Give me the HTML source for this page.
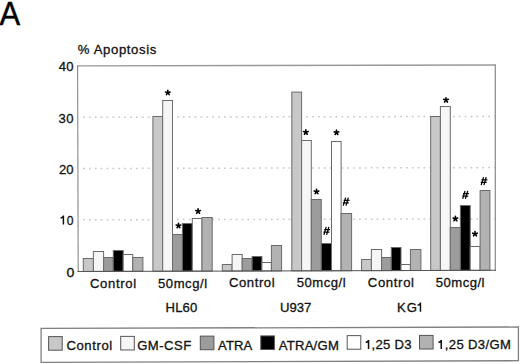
<!DOCTYPE html><html><head><meta charset="utf-8"><style>
html,body{margin:0;padding:0;background:#fff;width:520px;height:364px;overflow:hidden}
svg{display:block}
text{font-family:"Liberation Sans",sans-serif;fill:#111;stroke:#111;stroke-width:0.30px}
</style></head><body>
<svg width="520" height="364" viewBox="0 0 520 364">
<line x1="83.1" y1="219.8" x2="495" y2="218.90" stroke="#cacaca" stroke-width="1.5" stroke-dasharray="1.8 4.07"/>
<line x1="83.1" y1="168.5" x2="495" y2="167.60" stroke="#cacaca" stroke-width="1.5" stroke-dasharray="1.8 4.07"/>
<line x1="83.1" y1="117.3" x2="495" y2="116.40" stroke="#cacaca" stroke-width="1.5" stroke-dasharray="1.8 4.07"/>
<line x1="77.4" y1="65.9" x2="495.6" y2="65.0" stroke="#999" stroke-width="1.4"/>
<line x1="77.6" y1="65.3" x2="78.2" y2="272" stroke="#888" stroke-width="1.1"/>
<line x1="495.3" y1="64.4" x2="495.3" y2="270.8" stroke="#888" stroke-width="1.2"/>
<rect x="83.30" y="258.5" width="10.10" height="12.92" fill="#c8c8c8" stroke="#6a6a6a" stroke-width="1"/>
<rect x="93.40" y="251.5" width="10.20" height="19.89" fill="#f6f6f6" stroke="#6a6a6a" stroke-width="1"/>
<rect x="103.60" y="257.5" width="9.70" height="13.86" fill="#9c9c9c" stroke="#6a6a6a" stroke-width="1"/>
<rect x="113.30" y="250.5" width="9.90" height="20.84" fill="#000000" stroke="#6a6a6a" stroke-width="1"/>
<rect x="123.20" y="254.5" width="9.60" height="16.81" fill="#ffffff" stroke="#6a6a6a" stroke-width="1"/>
<rect x="132.80" y="257.5" width="10.10" height="13.78" fill="#b2b2b2" stroke="#6a6a6a" stroke-width="1"/>
<rect x="152.90" y="116.5" width="9.80" height="154.73" fill="#c8c8c8" stroke="#6a6a6a" stroke-width="1"/>
<rect x="162.70" y="100.5" width="9.80" height="170.70" fill="#f6f6f6" stroke="#6a6a6a" stroke-width="1"/>
<rect x="172.50" y="234.5" width="9.90" height="36.68" fill="#9c9c9c" stroke="#6a6a6a" stroke-width="1"/>
<rect x="182.40" y="223.5" width="9.90" height="47.65" fill="#000000" stroke="#6a6a6a" stroke-width="1"/>
<rect x="192.30" y="218.5" width="9.70" height="52.62" fill="#ffffff" stroke="#6a6a6a" stroke-width="1"/>
<rect x="202.00" y="217.5" width="10.20" height="53.59" fill="#b2b2b2" stroke="#6a6a6a" stroke-width="1"/>
<rect x="222.30" y="264.5" width="9.80" height="6.54" fill="#c8c8c8" stroke="#6a6a6a" stroke-width="1"/>
<rect x="232.10" y="254.5" width="10.10" height="16.51" fill="#f6f6f6" stroke="#6a6a6a" stroke-width="1"/>
<rect x="242.20" y="258.5" width="9.90" height="12.48" fill="#9c9c9c" stroke="#6a6a6a" stroke-width="1"/>
<rect x="252.10" y="256.5" width="9.80" height="14.46" fill="#000000" stroke="#6a6a6a" stroke-width="1"/>
<rect x="261.90" y="262.5" width="9.50" height="8.43" fill="#ffffff" stroke="#6a6a6a" stroke-width="1"/>
<rect x="271.40" y="245.5" width="10.20" height="25.40" fill="#b2b2b2" stroke="#6a6a6a" stroke-width="1"/>
<rect x="291.80" y="92.1" width="9.80" height="178.75" fill="#c8c8c8" stroke="#6a6a6a" stroke-width="1"/>
<rect x="301.60" y="140.5" width="9.70" height="130.32" fill="#f6f6f6" stroke="#6a6a6a" stroke-width="1"/>
<rect x="311.30" y="199.5" width="10.00" height="71.29" fill="#9c9c9c" stroke="#6a6a6a" stroke-width="1"/>
<rect x="321.30" y="243.5" width="10.20" height="27.27" fill="#000000" stroke="#6a6a6a" stroke-width="1"/>
<rect x="331.50" y="141.5" width="9.60" height="129.24" fill="#ffffff" stroke="#6a6a6a" stroke-width="1"/>
<rect x="341.10" y="213.5" width="10.50" height="57.21" fill="#b2b2b2" stroke="#6a6a6a" stroke-width="1"/>
<rect x="361.60" y="259.5" width="9.80" height="11.16" fill="#c8c8c8" stroke="#6a6a6a" stroke-width="1"/>
<rect x="371.40" y="249.5" width="10.20" height="21.13" fill="#f6f6f6" stroke="#6a6a6a" stroke-width="1"/>
<rect x="381.60" y="257.5" width="9.70" height="13.10" fill="#9c9c9c" stroke="#6a6a6a" stroke-width="1"/>
<rect x="391.30" y="247.5" width="9.70" height="23.07" fill="#000000" stroke="#6a6a6a" stroke-width="1"/>
<rect x="401.00" y="264.5" width="9.40" height="6.05" fill="#ffffff" stroke="#6a6a6a" stroke-width="1"/>
<rect x="410.40" y="249.5" width="10.50" height="21.02" fill="#b2b2b2" stroke="#6a6a6a" stroke-width="1"/>
<rect x="430.70" y="116.5" width="9.70" height="153.97" fill="#c8c8c8" stroke="#6a6a6a" stroke-width="1"/>
<rect x="440.40" y="106.5" width="9.90" height="163.94" fill="#f6f6f6" stroke="#6a6a6a" stroke-width="1"/>
<rect x="450.30" y="227.5" width="10.10" height="42.91" fill="#9c9c9c" stroke="#6a6a6a" stroke-width="1"/>
<rect x="460.40" y="205.5" width="9.80" height="64.88" fill="#000000" stroke="#6a6a6a" stroke-width="1"/>
<rect x="470.20" y="246.5" width="9.90" height="23.86" fill="#ffffff" stroke="#6a6a6a" stroke-width="1"/>
<rect x="480.10" y="190.5" width="9.80" height="79.83" fill="#b2b2b2" stroke="#6a6a6a" stroke-width="1"/>
<line x1="77.5" y1="271.45" x2="496" y2="270.30" stroke="#555" stroke-width="1.1"/>
<path d="M167.80 92.70L167.80 90.30M167.80 92.70L170.08 91.96M167.80 92.70L169.21 94.64M167.80 92.70L166.39 94.64M167.80 92.70L165.52 91.96" stroke="#000" stroke-width="1.6" stroke-linecap="round" fill="none"/>
<path d="M178.50 225.75L178.50 223.35M178.50 225.75L180.78 225.01M178.50 225.75L179.91 227.69M178.50 225.75L177.09 227.69M178.50 225.75L176.22 225.01" stroke="#000" stroke-width="1.6" stroke-linecap="round" fill="none"/>
<path d="M198.10 211.30L198.10 208.90M198.10 211.30L200.38 210.56M198.10 211.30L199.51 213.24M198.10 211.30L196.69 213.24M198.10 211.30L195.82 210.56" stroke="#000" stroke-width="1.6" stroke-linecap="round" fill="none"/>
<path d="M305.85 132.30L305.85 129.90M305.85 132.30L308.13 131.56M305.85 132.30L307.26 134.24M305.85 132.30L304.44 134.24M305.85 132.30L303.57 131.56" stroke="#000" stroke-width="1.6" stroke-linecap="round" fill="none"/>
<path d="M316.50 191.70L316.50 189.30M316.50 191.70L318.78 190.96M316.50 191.70L317.91 193.64M316.50 191.70L315.09 193.64M316.50 191.70L314.22 190.96" stroke="#000" stroke-width="1.6" stroke-linecap="round" fill="none"/>
<path d="M323.90 234.90L326.20 226.90M326.60 234.90L328.90 226.90M324.20 229.65L330.10 229.65M323.40 232.15L329.40 232.15" stroke="#000" stroke-width="1.25" fill="none"/>
<path d="M336.50 132.50L336.50 130.10M336.50 132.50L338.78 131.76M336.50 132.50L337.91 134.44M336.50 132.50L335.09 134.44M336.50 132.50L334.22 131.76" stroke="#000" stroke-width="1.6" stroke-linecap="round" fill="none"/>
<path d="M343.30 205.60L345.60 197.60M346.00 205.60L348.30 197.60M343.60 200.35L349.50 200.35M342.80 202.85L348.80 202.85" stroke="#000" stroke-width="1.25" fill="none"/>
<path d="M446.00 100.10L446.00 97.70M446.00 100.10L448.28 99.36M446.00 100.10L447.41 102.04M446.00 100.10L444.59 102.04M446.00 100.10L443.72 99.36" stroke="#000" stroke-width="1.6" stroke-linecap="round" fill="none"/>
<path d="M455.40 218.80L455.40 216.40M455.40 218.80L457.68 218.06M455.40 218.80L456.81 220.74M455.40 218.80L453.99 220.74M455.40 218.80L453.12 218.06" stroke="#000" stroke-width="1.6" stroke-linecap="round" fill="none"/>
<path d="M462.70 198.90L465.00 190.90M465.40 198.90L467.70 190.90M463.00 193.65L468.90 193.65M462.20 196.15L468.20 196.15" stroke="#000" stroke-width="1.25" fill="none"/>
<path d="M475.00 233.90L475.00 231.50M475.00 233.90L477.28 233.16M475.00 233.90L476.41 235.84M475.00 233.90L473.59 235.84M475.00 233.90L472.72 233.16" stroke="#000" stroke-width="1.6" stroke-linecap="round" fill="none"/>
<path d="M481.20 185.10L483.50 177.10M483.90 185.10L486.20 177.10M481.50 179.85L487.40 179.85M480.70 182.35L486.70 182.35" stroke="#000" stroke-width="1.25" fill="none"/>
<text x="-0.57" y="24.80" font-size="33.2" textLength="20.66" lengthAdjust="spacingAndGlyphs" style="fill:#000;stroke:#000;stroke-width:0.4px">A</text>
<text x="77.85" y="54.15" font-size="13.1" textLength="78.46" lengthAdjust="spacing">% Apoptosis</text>
<text x="58.65" y="71.05" font-size="13.1" textLength="14.83" lengthAdjust="spacing">40</text>
<text x="58.50" y="122.80" font-size="13.1" textLength="15.08" lengthAdjust="spacing">30</text>
<text x="59.00" y="173.80" font-size="13.1" textLength="14.58" lengthAdjust="spacing">20</text>
<text x="66.84" y="224.65" font-size="13.1" textLength="6.74" lengthAdjust="spacingAndGlyphs">0</text>
<text x="66.46" y="276.75" font-size="13.1" textLength="7.86" lengthAdjust="spacingAndGlyphs">0</text>
<text x="90.00" y="287.75" font-size="13.1" textLength="46.12" lengthAdjust="spacing">Control</text>
<text x="158.00" y="287.65" font-size="13.1" textLength="49.06" lengthAdjust="spacing">50mcg/l</text>
<text x="229.00" y="287.45" font-size="13.1" textLength="45.62" lengthAdjust="spacing">Control</text>
<text x="296.70" y="287.25" font-size="13.1" textLength="48.96" lengthAdjust="spacing">50mcg/l</text>
<text x="367.75" y="287.45" font-size="13.1" textLength="46.27" lengthAdjust="spacing">Control</text>
<text x="435.80" y="287.05" font-size="13.1" textLength="48.66" lengthAdjust="spacing">50mcg/l</text>
<text x="165.60" y="311.95" font-size="13.1" textLength="31.61" lengthAdjust="spacing">HL60</text>
<text x="280.05" y="311.85" font-size="13.1" textLength="31.31" lengthAdjust="spacing">U937</text>
<text x="397.10" y="311.75" font-size="13.1" textLength="19.72" lengthAdjust="spacing">KG</text>
<text x="66.40" y="349.75" font-size="13.1" textLength="45.82" lengthAdjust="spacing">Control</text>
<text x="137.20" y="349.95" font-size="13.1" textLength="53.99" lengthAdjust="spacing">GM-CSF</text>
<text x="218.10" y="349.75" font-size="13.1" textLength="34.15" lengthAdjust="spacing">ATRA</text>
<text x="278.70" y="349.55" font-size="13.1" textLength="60.14" lengthAdjust="spacing">ATRA/GM</text>
<text x="371.50" y="349.15" font-size="13.1" textLength="40.13" lengthAdjust="spacing">,25 D3</text>
<text x="444.80" y="349.05" font-size="13.1" textLength="66.06" lengthAdjust="spacing">,25 D3/GM</text>
<path d="M63.40 224.60L63.40 215.50M63.50 216.00Q62.70 217.80 60.55 218.10" stroke="#111" stroke-width="1.5" fill="none"/>
<path d="M420.45 311.70L420.45 302.60M420.55 303.10Q419.75 304.90 417.60 305.20" stroke="#111" stroke-width="1.5" fill="none"/>
<path d="M368.55 349.00L368.55 339.90M368.65 340.40Q367.85 342.20 365.70 342.50" stroke="#111" stroke-width="1.5" fill="none"/>
<path d="M441.25 349.00L441.25 339.90M441.35 340.40Q440.55 342.20 438.40 342.50" stroke="#111" stroke-width="1.5" fill="none"/>
<path d="M41.1 328.4L518.4 327.0L518.4 360.7L41.1 362.4Z" fill="none" stroke="#808080" stroke-width="1.3"/>
<rect x="48.6" y="336.60" width="13.6" height="13.6" fill="#c8c8c8" stroke="#555" stroke-width="1"/>
<rect x="120.7" y="336.37" width="13.6" height="13.6" fill="#f6f6f6" stroke="#555" stroke-width="1"/>
<rect x="200.3" y="336.11" width="13.6" height="13.6" fill="#9c9c9c" stroke="#555" stroke-width="1"/>
<rect x="260.8" y="335.91" width="13.6" height="13.6" fill="#000000" stroke="#555" stroke-width="1"/>
<rect x="347.2" y="335.63" width="13.6" height="13.6" fill="#ffffff" stroke="#555" stroke-width="1"/>
<rect x="419.5" y="335.40" width="13.6" height="13.6" fill="#b2b2b2" stroke="#555" stroke-width="1"/>
</svg></body></html>
